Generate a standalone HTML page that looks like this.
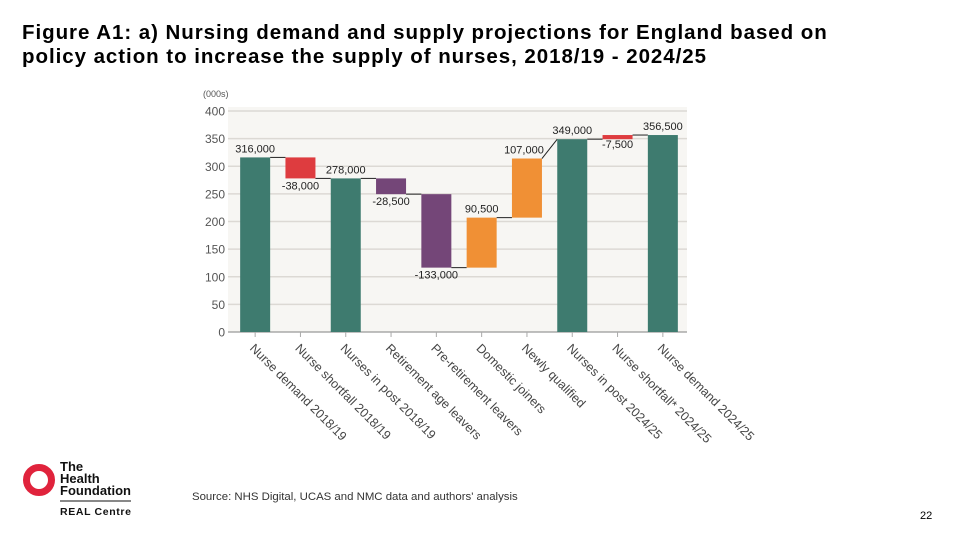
<!DOCTYPE html>
<html><head><meta charset="utf-8">
<style>
body{margin:0;width:960px;height:540px;background:#fff;overflow:hidden;font-family:"Liberation Sans",Arial,sans-serif;position:relative}
.title{position:absolute;left:22px;top:21px;font-size:20.5px;font-weight:bold;line-height:24px;color:#000;letter-spacing:0.95px}
.src{position:absolute;left:192px;top:491px;font-size:11.4px;color:#333}
.pg{position:absolute;left:920px;top:510px;font-size:11px;color:#000}
</style></head><body>
<div class="title">Figure A1: a) Nursing demand and supply projections for England based on<br>policy action to increase the supply of nurses, 2018/19 - 2024/25</div>
<svg id="chart" width="960" height="540" style="position:absolute;left:0;top:0">
<g id="logo">
<circle cx="39" cy="480" r="12.5" fill="none" stroke="#e0233c" stroke-width="7"/>
<text x="60" y="471" font-size="13" font-weight="bold" fill="#111" font-family="Liberation Sans">The</text>
<text x="60" y="483" font-size="13" font-weight="bold" fill="#111" font-family="Liberation Sans">Health</text>
<text x="60" y="495" font-size="13" font-weight="bold" fill="#111" font-family="Liberation Sans" textLength="71">Foundation</text>
<line x1="60" y1="501" x2="131" y2="501" stroke="#111" stroke-width="1"/>
<text x="60" y="515" font-size="10.5" font-weight="bold" fill="#111" font-family="Liberation Sans" textLength="71">REAL Centre</text>
</g>
</svg>
<div class="src">Source: NHS Digital, UCAS and NMC data and authors' analysis</div>
<div class="pg">22</div>
<script>
const categories=["Nurse demand 2018/19","Nurse shortfall 2018/19","Nurses in post 2018/19","Retirement age leavers","Pre-retirement leavers","Domestic joiners","Newly qualified","Nurses in post 2024/25","Nurse shortfall* 2024/25","Nurse demand 2024/25"];
const barStart=[0,316,0,278,249.5,116.5,207,0,349,0];
const barEnd=[316,278,278,249.5,116.5,207,314,349,356.5,356.5];
const barLabels=["316,000","-38,000","278,000","-28,500","-133,000","90,500","107,000","349,000","-7,500","356,500"];
const yTicks=[0,50,100,150,200,250,300,350,400];
const colors=["#3e7b6f","#de3c3f","#3e7b6f","#744678","#744678","#f09035","#f09035","#3e7b6f","#de3c3f","#3e7b6f"];
const NS="http://www.w3.org/2000/svg";
const svg=document.getElementById('chart');
const L=232.5,R=687,T=111,B=332,band=45.3,bw=30;
const y=v=>B-(v/400)*(B-T);
const xc=i=>L+band*(i+0.5);
function mk(tag,attrs,parent){const e=document.createElementNS(NS,tag);for(const k in attrs)e.setAttribute(k,attrs[k]);(parent||svg).appendChild(e);return e;}
const bg=mk('rect',{x:228,y:T-4,width:R-228,height:B-T+4,fill:'#f7f6f3'});


yTicks.forEach(t=>{
  const g=mk('line',{x1:228,x2:R,y1:y(t),y2:y(t),stroke:t===0?'#999':'#dcd9d4','stroke-width':t===0?1.2:1.5});
  
  
  const tx=mk('text',{x:225,y:y(t)+4.5,'text-anchor':'end','font-size':12,fill:'#555','font-family':'Liberation Sans'});
  tx.textContent=t;
  
  
});
const unit=mk('text',{x:203,y:97,'font-size':9,fill:'#555','font-family':'Liberation Sans'});
unit.textContent='(000s)';


categories.forEach((c,i)=>{
  const lo=Math.min(barStart[i],barEnd[i]),hi=Math.max(barStart[i],barEnd[i]);
  const r=mk('rect',{x:xc(i)-bw/2,y:y(hi),width:bw,height:Math.max(y(lo)-y(hi),1),fill:colors[i]});
  
  
  const tk=mk('line',{x1:xc(i),x2:xc(i),y1:B,y2:B+5,stroke:'#aaa'});
  
  
  const lx=xc(i)-6,ly=B+17;
  const t=mk('text',{x:lx,y:ly,'font-size':12.5,fill:'#444','font-family':'Liberation Sans',transform:`rotate(45 ${lx} ${ly})`});
  t.textContent=c;
  
  
  if(i<categories.length-1){
    const nxt=barStart[i+1]===0?barEnd[i+1]:barStart[i+1];
    const ln=mk('line',{x1:xc(i)+bw/2,x2:xc(i+1)-bw/2,y1:y(barEnd[i]),y2:y(nxt),stroke:'#222','stroke-width':1});
    
    
  }
  const neg=barEnd[i]<barStart[i];
  let lyv=neg?y(barEnd[i])+11:y(barEnd[i])-5;
  if(i===8)lyv=y(barEnd[i])+13;
  let lxv=xc(i);
  if(i===6)lxv=xc(i)-3;
  const lb=mk('text',{x:lxv,y:lyv,'text-anchor':'middle','font-size':11,fill:'#222','font-family':'Liberation Sans'});
  lb.textContent=barLabels[i];
  
  
});
</script>
</body></html>
